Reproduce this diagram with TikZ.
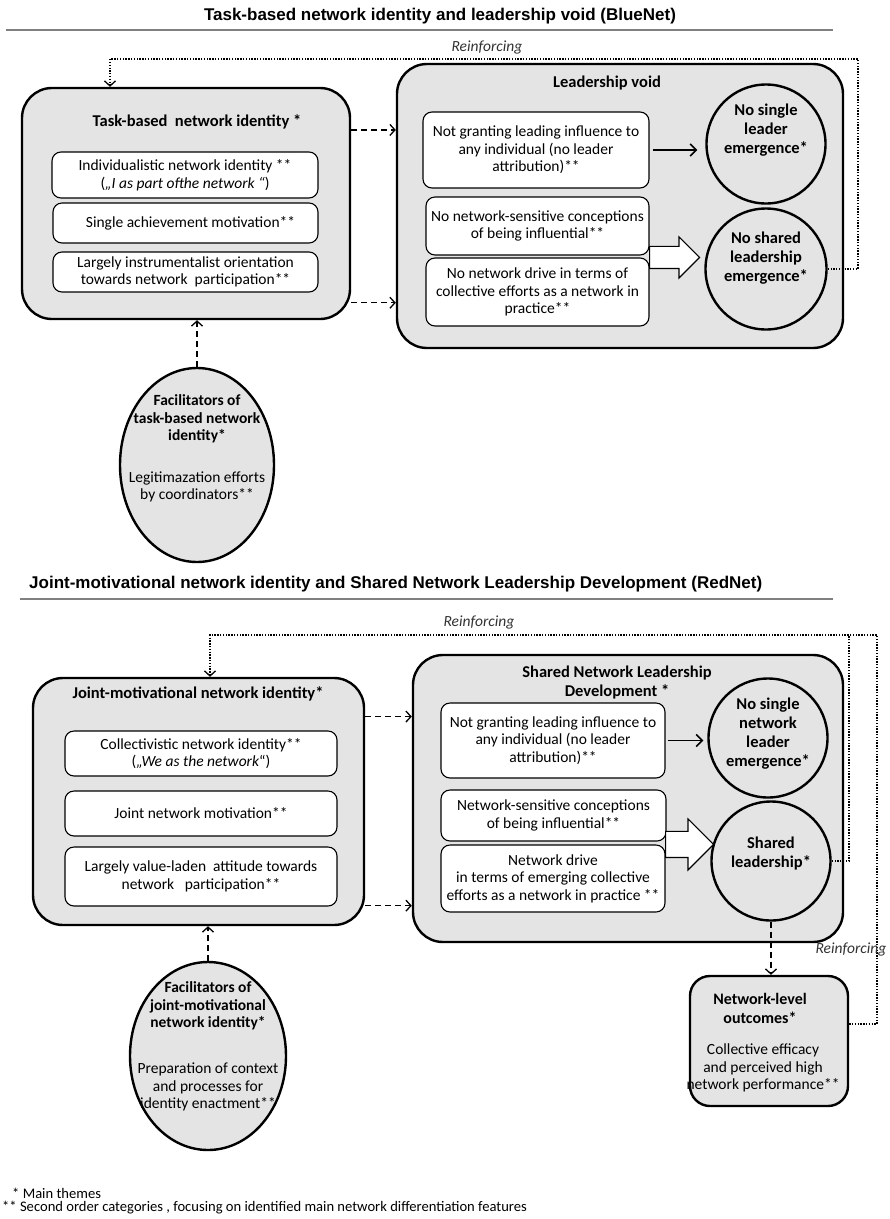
\documentclass[tikz,border=0pt]{standalone}
\usepackage{fontspec}
\setmainfont{Carlito}
\newfontfamily\nwheadfont{Liberation Sans}
\usepackage{tikz}
\usetikzlibrary{arrows.meta,shapes.geometric,shapes.arrows}
\definecolor{nwink}  {HTML}{000000}
\definecolor{nwgrey} {HTML}{E4E4E4}
\definecolor{nwrule} {HTML}{808080}
\definecolor{nwnote} {HTML}{333333}
\newcommand{\nwbody}{\fontsize{15.5}{17.5}\selectfont}
\newcommand{\nwbold}{\fontsize{16.5}{19}\selectfont\bfseries}
\newcommand{\nwboldsm}{\fontsize{15.5}{17.5}\selectfont\bfseries}
\tikzset{
  nwouter/.style={draw=nwink, line width=2.4pt, fill=nwgrey, rounded corners=30pt},
  nwinner/.style={draw=nwink, line width=1.1pt, fill=white, rounded corners=9pt,
                  inner sep=0pt, align=center, font=\nwbody},
  nwtheme/.style={circle, draw=nwink, line width=2.4pt, fill=nwgrey,
                  minimum size=119pt, inner sep=0pt},
  nwfacil/.style={ellipse, draw=nwink, line width=2.4pt, fill=nwgrey, inner sep=0pt},
  nwhead/.style={font=\nwbold, align=center, inner sep=0pt},
  nwheadsm/.style={font=\nwboldsm, align=center, inner sep=0pt},
  nwtext/.style={font=\nwbody, align=center, inner sep=0pt},
  nwloopl/.style={font=\nwbody\itshape, inner sep=0pt, text=nwnote},
  nwtitle/.style={font=\nwheadfont\bfseries\fontsize{17}{20}\selectfont, inner sep=0pt},
  nwfoot/.style={font=\fontsize{14.6}{16}\selectfont, inner sep=0pt, anchor=west},
  nwline/.style={draw=nwrule, line width=1.6pt},
  nwdash/.style={-{Straight Barb[length=5pt,width=11pt]}, line width=1.3pt,
                 dash pattern=on 6pt off 4pt},
  nwsolid/.style={-{Straight Barb[length=6pt,width=12pt]}, line width=1.6pt},
  nwloop/.style={line width=1.3pt, dash pattern=on 1.3pt off 1.5pt},
  nwloopend/.style={nwloop, -{Straight Barb[length=5pt,width=11pt]}},
  nwblock/.style={single arrow, draw=nwink, line width=1.1pt, fill=white,
                  inner sep=0pt, outer sep=0pt, minimum width=0pt, anchor=tail},
}

\begin{document}
\begin{tikzpicture}[x=1pt,y=-1pt]
  \useasboundingbox (0,0) rectangle (890,1219);

  % BlueNet
  \node[nwtitle] (ttl1) at (440,16) {Task-based network identity and leadership void (BlueNet)};
  \draw[nwline] (6,30) -- (833,30);

  \node[nwouter, minimum width=328pt, minimum height=231pt] (taskid) at (186,203.5) {};
  \node[nwhead] (taskidt) at (197,122) {Task-based\ \ network identity *};
  \node[nwinner, minimum width=266pt, minimum height=46pt] (indiv) at (185,175)
    {Individualistic network identity **\\(\textit{„I as part ofthe network “})};
  \node[nwinner, minimum width=265pt, minimum height=40pt] (single) at (185.5,223)
    {\hspace*{10pt}Single achievement motivation**};
  \node[nwinner, minimum width=265pt, minimum height=40pt] (instr) at (185.5,272)
    {Largely instrumentalist orientation\\towards network\ \ participation**};

  \node[nwouter, minimum width=446pt, minimum height=284pt] (void) at (620,206) {};
  \node[nwhead] (voidt) at (607,83) {Leadership void};
  \node[nwinner, minimum width=226pt, minimum height=76pt] (noinfl) at (536,150)
    {Not granting leading influence to\\any individual (no leader\\attribution)**};
  \node[nwinner, minimum width=223pt, minimum height=58pt] (nosens) at (537.5,226)
    {No network-sensitive conceptions\\of being influential**};
  \node[nwinner, minimum width=223pt, minimum height=68pt] (nodrive) at (537.5,292)
    {No network drive in terms of\\collective efforts as a network in\\practice**};
  \node[nwtheme] (nosingle) at (766,144) {};
  \node[nwhead] (nosinglet) at (766,130) {No single\\leader\\emergence*};
  \node[nwtheme, minimum size=121pt] (noshared) at (766,269) {};
  \node[nwhead] (nosharedt) at (766,258) {No shared\\leadership\\emergence*};
  \node[nwblock, minimum height=50pt, text height=10.5pt, text depth=10.5pt,
        single arrow head extend=9.5pt] (drive1) at (nodrive.north east) {};

  \node[nwfacil, minimum width=154pt, minimum height=194pt] (facil1) at (197,465) {};
  \node[nwheadsm] (facil1t) at (197,419) {Facilitators of\\task-based network\\identity*};
  \node[nwtext] (facil1s) at (197,487) {Legitimazation efforts\\by coordinators**};

  \draw[nwsolid, shorten <=3pt, shorten >=8pt] (noinfl.east) -- (noinfl.east -| nosingle.west);
  \draw[nwdash] (taskid.24.4) -- (taskid.24.4 -| void.west);
  \draw[nwdash] (taskid.-31) -- (taskid.-31 -| void.west);
  \draw[nwdash] (facil1.north) -- (facil1.north |- taskid.south);

  \coordinate (loop1r) at (858,59);
  \coordinate (loop1l) at (110,59);
  \draw[nwloopend] (noshared.east) -- (noshared.east -| loop1r) -- (loop1r)
    -- (loop1l) -- (loop1l |- taskid.north);
  \node[nwloopl] (reinf1) at (487,47) {Reinforcing};

  % RedNet
  \node[nwtitle, anchor=west] (ttl2) at (29,584)
    {Joint-motivational network identity and Shared Network Leadership Development (RedNet)};
  \draw[nwline] (20,599) -- (833,599);

  \node[nwouter, minimum width=331pt, minimum height=247pt] (jointid) at (198.5,801.5) {};
  \node[nwhead] (jointidt) at (198,694) {Joint-motivational network identity*};
  \node[nwinner, minimum width=272pt, minimum height=45pt] (collect) at (201,753.5)
    {Collectivistic network identity**\\(\textit{„We as the network}“)};
  \node[nwinner, minimum width=272pt, minimum height=45pt] (jointmot) at (201,813.5)
    {Joint network motivation**};
  \node[nwinner, minimum width=272pt, minimum height=59pt] (valueled) at (201,876.5)
    {Largely value-laden\ \ attitude towards\\network\ \ \ participation**};

  \node[nwouter, minimum width=430pt, minimum height=287pt] (shared) at (628,798.5) {};
  \node[nwhead] (sharedt) at (617,682) {Shared Network Leadership\\Development *};
  \node[nwinner, minimum width=224pt, minimum height=75pt] (noinfl2) at (553,740.5)
    {Not granting leading influence to\\any individual (no leader\\attribution)**};
  \node[nwinner, minimum width=225pt, minimum height=51pt] (sens) at (553.5,815.5)
    {Network-sensitive conceptions\\of being influential**};
  \node[nwinner, minimum width=224pt, minimum height=67pt] (drive) at (553,878.5)
    {Network drive\\in terms of emerging collective\\efforts as a network in practice **};
  \node[nwtheme] (nosingle2) at (768,738) {};
  \node[nwhead] (nosingle2t) at (768,734) {No single\\network\\leader\\emergence*};
  \node[nwtheme] (sharedl) at (771,861) {};
  \node[nwhead] (sharedlt) at (771,853) {Shared\\leadership*};
  \node[nwblock, minimum height=48pt, text height=12.5pt, text depth=12.5pt,
        single arrow head extend=12.5pt] (drive2) at (drive.north east) {};

  \node[nwouter, rounded corners=20pt, minimum width=158pt, minimum height=130pt] (outc) at (769,1041) {};
  \node[nwhead, font=\fontsize{16}{19}\selectfont\bfseries] (outct) at (760,1008) {Network-level\\outcomes*};
  \node[nwtext] (outcs) at (763,1068) {Collective efficacy\\and perceived high\\network performance**};

  \node[nwfacil, minimum width=156pt, minimum height=188pt] (facil2) at (208,1056) {};
  \node[nwheadsm] (facil2t) at (208,1006) {Facilitators of\\joint-motivational\\network identity*};
  \node[nwtext] (facil2s) at (208,1087) {Preparation of context\\and processes for\\identity enactment**};

  \draw[nwsolid, shorten <=2pt, shorten >=4pt] (noinfl2.east) -- (noinfl2.east -| nosingle2.west);
  \draw[nwdash] (jointid.27.6) -- (jointid.27.6 -| shared.west);
  \draw[nwdash] (jointid.-32) -- (jointid.-32 -| shared.west);
  \draw[nwdash] (facil2.north) -- (facil2.north |- jointid.south);
  \draw[nwdash] (sharedl.south) -- (sharedl.south |- outc.north);

  \coordinate (loop2m) at (849,635);
  \coordinate (loop2r) at (877,635);
  \coordinate (loop2l) at (210,635);
  \draw[nwloop] (sharedl.east) -- (sharedl.east -| loop2m) -- (loop2m);
  \draw[nwloopend] (outc.12.8) -- (outc.12.8 -| loop2r) -- (loop2r)
    -- (loop2l) -- (loop2l |- jointid.north);
  \node[nwloopl] (reinf2) at (479,622) {Reinforcing};
  \node[nwloopl] (reinf3) at (851,949) {Reinforcing};

  \node[nwfoot] (fn1) at (12,1193) {* Main themes};
  \node[nwfoot] (fn2) at (2,1208) {** Second order categories , focusing on identified main network differentiation features};
\end{tikzpicture}
\end{document}
